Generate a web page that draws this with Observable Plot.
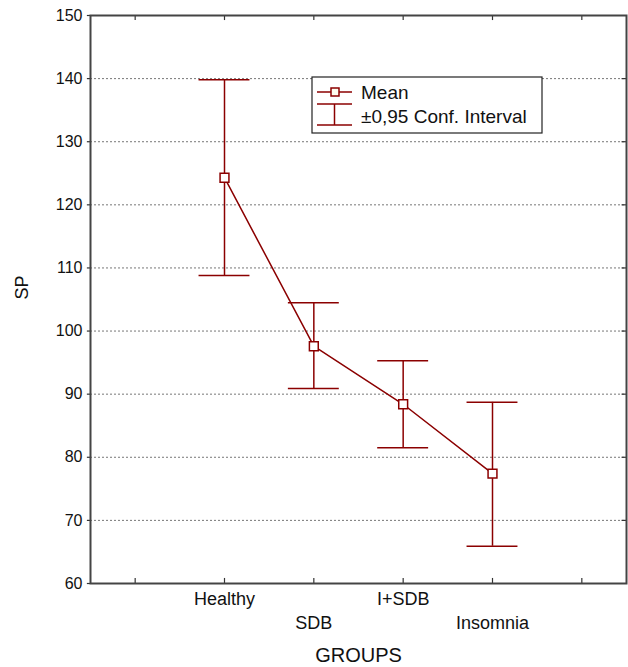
<!DOCTYPE html>
<html>
<head>
<meta charset="utf-8">
<script src="https://cdn.jsdelivr.net/npm/d3@7"></script>
<script src="https://cdn.jsdelivr.net/npm/@observablehq/plot@0.6"></script>
<style>
  html, body { margin: 0; padding: 0; background: #fff; }
  #wrap { position: relative; width: 628px; height: 667px; font-family: "Liberation Sans", Arial, sans-serif; }
</style>
</head>
<body>
<div id="wrap"></div>
<script>
// ---- data ----
const groups = ["Healthy", "SDB", "I+SDB", "Insomnia"];
const groupPos = [1, 2, 3, 4];
const means = [124.3, 97.6, 88.4, 77.4];
const upper = [139.8, 104.5, 95.3, 88.7];
const lower = [108.8, 90.9, 81.5, 65.9];
const yTicks = [60, 70, 80, 90, 100, 110, 120, 130, 140, 150];
const gridTicks = [70, 80, 90, 100, 110, 120, 130, 140];
const xTicks = [0, 1, 2, 3, 4, 5];
const xLabel = "GROUPS";
const yLabel = "SP";
const legendLabels = ["Mean", "±0,95 Conf. Interval"];

const data = groups.map((g, i) => ({group: g, x: groupPos[i], mean: means[i], hi: upper[i], lo: lower[i], row: i % 2}));
const RED = "#8b0000";
const capHalf = 0.285;
const font = "Liberation Sans, Arial, sans-serif";

const chart = Plot.plot({
  width: 628,
  height: 667,
  marginLeft: 90,
  marginRight: 2,
  marginTop: 15,
  marginBottom: 84,
  style: {fontFamily: font, background: "#fff"},
  x: {type: "linear", domain: [-0.5, 5.5], axis: null},
  y: {type: "linear", domain: [60, 150], axis: null},
  marks: [
    Plot.ruleY(gridTicks, {stroke: "#777", strokeWidth: 1, strokeDasharray: "2,2"}),
    // inward ticks bottom/top
    Plot.ruleX(xTicks, {y1: 60, y2: 60.8, stroke: "#333", strokeWidth: 1.2}),
    Plot.ruleX(xTicks, {y1: 150, y2: 149.2, stroke: "#333", strokeWidth: 1.2}),
    // y ticks (left outward, right inward)
    Plot.ruleY(yTicks, {x1: -0.535, x2: -0.5, stroke: "#333", strokeWidth: 1.2}),
    Plot.ruleY(gridTicks, {x1: 5.5, x2: 5.45, stroke: "#333", strokeWidth: 1.2}),
    Plot.frame({stroke: "#444", strokeWidth: 2}),
    Plot.text(yTicks, {x: () => -0.5, y: d => d, text: d => String(d), textAnchor: "end", dx: -8, fontSize: 16, fill: "#111"}),
    // x labels staggered
    Plot.text(data.filter(d => d.row === 0), {x: "x", y: () => 60, text: "group", dy: 16, fontSize: 18, fill: "#111"}),
    Plot.text(data.filter(d => d.row === 1), {x: "x", y: () => 60, text: "group", dy: 40, fontSize: 18, fill: "#111"}),
    Plot.text([xLabel], {frameAnchor: "bottom", lineAnchor: "middle", text: d => d, dy: 72, fontSize: 20, fill: "#111"}),
    Plot.text([yLabel], {frameAnchor: "left", text: d => d, dx: -68, rotate: -90, fontSize: 18, fill: "#111"}),
    // error bars
    Plot.ruleX(data, {x: "x", y1: "lo", y2: "hi", stroke: RED, strokeWidth: 1.5}),
    Plot.ruleY(data, {y: "hi", x1: d => d.x - capHalf, x2: d => d.x + capHalf, stroke: RED, strokeWidth: 1.5}),
    Plot.ruleY(data, {y: "lo", x1: d => d.x - capHalf, x2: d => d.x + capHalf, stroke: RED, strokeWidth: 1.5}),
    Plot.line(data, {x: "x", y: "mean", stroke: RED, strokeWidth: 1.5}),
    Plot.dot(data, {x: "x", y: "mean", symbol: "square", r: 5, fill: "#fff", stroke: RED, strokeWidth: 1.5})
  ]
});
const wrap = document.getElementById("wrap");
wrap.appendChild(chart);

// legend
const lw = 230, lh = 56;
const leg = d3.create("svg").attr("width", lw + 2).attr("height", lh + 2)
  .style("position", "absolute").style("left", "311px").style("top", "76px");
leg.append("rect").attr("x", 1).attr("y", 1).attr("width", lw).attr("height", lh)
  .attr("fill", "#fff").attr("stroke", "#222").attr("stroke-width", 1.2);
// mean symbol
leg.append("line").attr("x1", 6).attr("x2", 41).attr("y1", 16).attr("y2", 16).attr("stroke", RED).attr("stroke-width", 1.5);
leg.append("rect").attr("x", 20).attr("y", 12).attr("width", 8).attr("height", 8).attr("fill", "#fffdf0").attr("stroke", RED).attr("stroke-width", 1.5);
// CI symbol
leg.append("line").attr("x1", 6).attr("x2", 41).attr("y1", 28).attr("y2", 28).attr("stroke", RED).attr("stroke-width", 1.5);
leg.append("line").attr("x1", 6).attr("x2", 41).attr("y1", 49).attr("y2", 49).attr("stroke", RED).attr("stroke-width", 1.5);
leg.append("line").attr("x1", 23.5).attr("x2", 23.5).attr("y1", 28).attr("y2", 49).attr("stroke", RED).attr("stroke-width", 1.5);
leg.selectAll("text").data(legendLabels).join("text")
  .attr("x", 50).attr("y", (d, i) => 16 + i * 24).attr("dy", "0.35em")
  .attr("font-family", font).attr("font-size", 19).attr("fill", "#111").text(d => d);
wrap.appendChild(leg.node());
</script>
</body>
</html>
